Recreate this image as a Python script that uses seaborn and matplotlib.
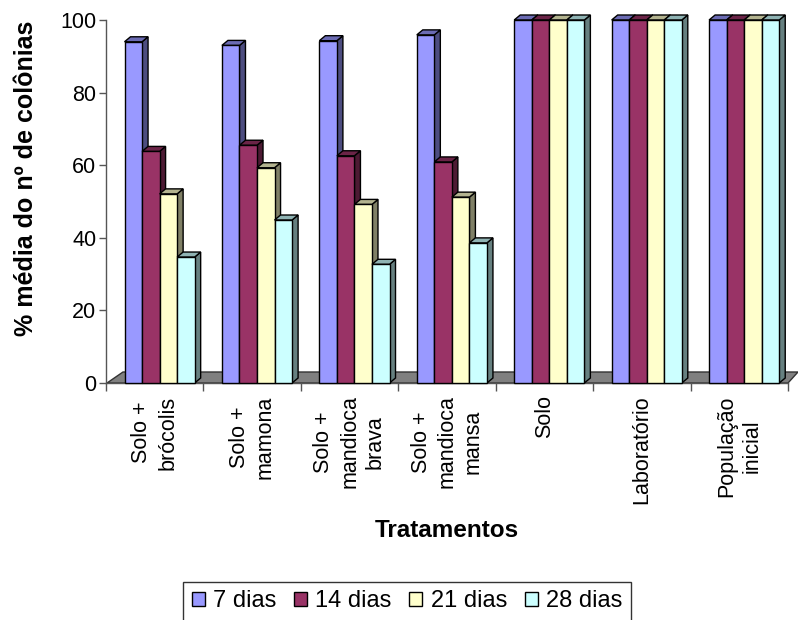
import numpy as np
import pandas as pd
import matplotlib
matplotlib.use("Agg")
import matplotlib.pyplot as plt
import matplotlib.colors as mcolors
from matplotlib.patches import Polygon, Patch
from matplotlib.transforms import IdentityTransform
import seaborn as sns

# ---------------- data ----------------
tratamentos = ["Solo +\nbrócolis", "Solo +\nmamona", "Solo +\nmandioca\nbrava",
               "Solo +\nmandioca\nmansa", "Solo", "Laboratório", "População\ninicial"]
dias = ["7 dias", "14 dias", "21 dias", "28 dias"]
v7 = [94.0, 93.0, 94.3, 95.9, 100, 100, 100]
v14 = [63.8, 65.5, 62.6, 60.9, 100, 100, 100]
v21 = [52.1, 59.3, 49.2, 51.2, 100, 100, 100]
v28 = [34.7, 44.9, 32.7, 38.6, 100, 100, 100]
cores = ["#9999FF", "#993366", "#FFFFCC", "#CCFFFF"]
yticks = [0, 20, 40, 60, 80, 100]

serie = {"7 dias": v7, "14 dias": v14, "21 dias": v21, "28 dias": v28}
df = pd.DataFrame([(t, d, serie[d][i]) for d in dias for i, t in enumerate(tratamentos)],
                  columns=["Tratamento", "Dias", "valor"])

# ---------------- style ----------------
sns.set_style("ticks")
plt.rcParams["font.family"] = ["Liberation Sans", "DejaVu Sans"]
plt.rcParams.update({"text.color": "black", "axes.labelcolor": "black",
                     "xtick.color": "black", "ytick.color": "black"})

W, H = 798, 620
fig = plt.figure(figsize=(W / 100, H / 100), dpi=100)
ax = fig.add_axes([106 / W, 1 - 383 / H, 682 / W, 363 / H])

sns.barplot(data=df, x="Tratamento", y="valor", hue="Dias", order=tratamentos,
            hue_order=dias, palette=cores, width=0.72, saturation=1,
            edgecolor="black", linewidth=1, errorbar=None, ax=ax, legend=False)

ax.set_xlim(-0.5, len(tratamentos) - 0.5)
ax.set_ylim(0, 100)
ax.set_yticks(yticks)
ax.set_xticks(range(len(tratamentos)))
ax.set_xticklabels(tratamentos, rotation=90, fontsize=15.5, linespacing=1.3)
ax.set_xticks(np.arange(-0.5, len(tratamentos)), minor=True)
ax.tick_params(axis="x", which="major", length=0, pad=9)
ax.tick_params(axis="x", which="minor", length=6, color="#555555", width=1)
ax.tick_params(axis="y", length=5, color="#555555", width=1, labelsize=15.5, pad=2)
for s in ["top", "right"]:
    ax.spines[s].set_visible(False)
for s in ["left", "bottom"]:
    ax.spines[s].set_color("#555555")
    ax.spines[s].set_linewidth(1)

# shift bars slightly right (3-D perspective of original)
bars = [p for c in ax.containers for p in c]
for p in bars:
    p.set_x(p.get_x() + 0.05)
    p.set_clip_on(False)

# ---------------- pseudo 3-D faces ----------------
dx, dy = 6, 5
tr = ax.transData
bars = sorted(bars, key=lambda p: p.get_x())
for j, p in enumerate(bars):
    x0, w, h = p.get_x(), p.get_width(), p.get_height()
    (xl, yb), (xr, yt) = tr.transform([(x0, 0), (x0 + w, h)])
    fc = np.array(mcolors.to_rgb(p.get_facecolor()))
    side = Polygon([(xr, yb), (xr + dx, yb + dy), (xr + dx, yt + dy), (xr, yt)],
                   closed=True, transform=IdentityTransform(), facecolor=fc * 0.5,
                   edgecolor="black", linewidth=1, zorder=3 + 2 * j, clip_on=False)
    top = Polygon([(xl, yt), (xl + dx, yt + dy), (xr + dx, yt + dy), (xr, yt)],
                  closed=True, transform=IdentityTransform(), facecolor=fc * 0.7,
                  edgecolor="black", linewidth=1, zorder=3 + 2 * j, clip_on=False)
    ax.add_artist(side)
    ax.add_artist(top)
    p.set_zorder(4 + 2 * j)

# floor
(fl, fb), (fr, _) = tr.transform([(-0.5, 0), (len(tratamentos) - 0.5, 0)])
floor = Polygon([(fl + 1, fb), (fl + 17, fb + 11), (fr + 10, fb + 11), (fr, fb)],
                closed=True, transform=IdentityTransform(), facecolor="#808080",
                edgecolor="#333333", linewidth=1, zorder=1, clip_on=False)
ax.add_artist(floor)

# ---------------- labels ----------------
ax.set_ylabel("% média do nº de colônias", fontsize=18, fontweight="bold")
ax.yaxis.set_label_coords(-0.10, 0.565)
ax.set_xlabel("Tratamentos", fontsize=17.5, fontweight="bold")
ax.xaxis.set_label_coords(0.5, -0.375)

handles = [Patch(facecolor=c, edgecolor="black", linewidth=1) for c in cores]
fig.legend(handles, dias, loc="upper center", bbox_to_anchor=(407 / W, 1 - 582 / H),
           ncol=4, frameon=True, fancybox=False, edgecolor="#333333", fontsize=17,
           handlelength=0.55, handleheight=0.55, handletextpad=0.35,
           columnspacing=0.75, borderpad=0.35, borderaxespad=0, framealpha=1)

fig.savefig("out.png", dpi=100)
